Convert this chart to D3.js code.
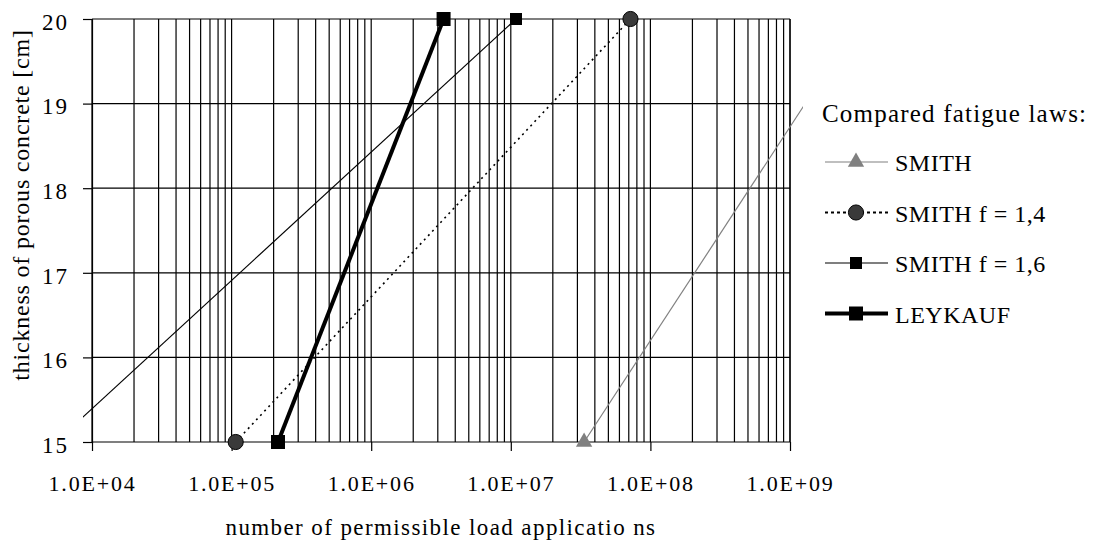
<!DOCTYPE html>
<html>
<head>
<meta charset="utf-8">
<script src="https://cdn.jsdelivr.net/npm/d3@7"></script>
<style>
  body { margin: 0; background: #fff; }
  svg text { font-family: "Liberation Serif", "Times New Roman", Times, "DejaVu Serif", serif; fill: #000; }
</style>
</head>
<body>
<div id="chart"></div>
<script>
// thickness of porous concrete [cm] and permissible load applications per law
const thickness = [15, 20]
const smith = [3.35e7, 3.2e9]
const smith14 = [1.07e5, 7.2e7]
const smith16 = [5.5e3, 1.09e7]
const leykauf = [2.15e5, 3.3e6]

const yTicks = [15, 16, 17, 18, 19, 20]
const xMajor = [1e4, 1e5, 1e6, 1e7, 1e8, 1e9]
const xLabels = ["1.0E+04", "1.0E+05", "1.0E+06", "1.0E+07", "1.0E+08", "1.0E+09"]
const legendNames = ["SMITH", "SMITH f = 1,4", "SMITH f = 1,6", "LEYKAUF"]

const W = 1095, H = 542
const plot = {left: 92, right: 790, top: 19, bottom: 442}

const svg = d3.select("#chart").append("svg")
    .attr("width", W)
    .attr("height", H)

const x = d3.scaleLog().domain([1e4, 1e9]).range([plot.left, plot.right])
const y = d3.scaleLinear().domain([15, 20]).range([plot.bottom, plot.top])

// all minor + major vertical grid values
const xGrid = []
for (let d = 4; d < 9; d++) {
    for (let k = 1; k < 10; k++) xGrid.push(k * Math.pow(10, d))
}
xGrid.push(1e9)

const grid = svg.append("g").attr("stroke", "#000").attr("stroke-width", 1.2)

grid.selectAll(".vg").data(xGrid).join("line")
    .attr("class", "vg")
    .attr("x1", d => x(d)).attr("x2", d => x(d))
    .attr("y1", plot.top).attr("y2", plot.bottom)

grid.selectAll(".hg").data(yTicks).join("line")
    .attr("class", "hg")
    .attr("x1", plot.left).attr("x2", plot.right)
    .attr("y1", d => y(d)).attr("y2", d => y(d))

// axes
const xAxis = d3.axisBottom(x)
    .tickValues(xMajor)
    .tickSize(9)
    .tickPadding(24)
    .tickFormat((d, i) => xLabels[i])

const yAxis = d3.axisLeft(y)
    .tickValues(yTicks)
    .tickSize(9)
    .tickPadding(14)
    .tickFormat(d3.format("d"))

const gx = svg.append("g")
    .attr("transform", `translate(0,${plot.bottom})`)
    .call(xAxis)
gx.select(".domain").remove()
gx.selectAll("line").attr("stroke", "#000").attr("stroke-width", 1.2)
gx.selectAll("text")
    .style("font-size", "22px")
    .style("letter-spacing", "1.8px")

const gy = svg.append("g")
    .attr("transform", `translate(${plot.left},0)`)
    .call(yAxis)
gy.select(".domain").attr("stroke", "#000").attr("stroke-width", 1.2)
gy.selectAll("line").attr("stroke", "#000").attr("stroke-width", 1.2)
gy.selectAll("text")
    .attr("dy", "0.45em")
    .style("font-size", "23px")
    .style("letter-spacing", "2px")

svg.append("line")
    .attr("x1", plot.right).attr("x2", plot.right)
    .attr("y1", plot.top).attr("y2", plot.bottom)
    .attr("stroke", "#000").attr("stroke-width", 1.2)

// axis titles
svg.append("text")
    .attr("x", 441)
    .attr("y", 535)
    .attr("text-anchor", "middle")
    .style("font-size", "23px")
    .style("letter-spacing", "1.4px")
    .text("number of permissible load applicatio ns")

svg.append("text")
    .attr("transform", `translate(29,205) rotate(-90)`)
    .attr("text-anchor", "middle")
    .style("font-size", "24px")
    .style("letter-spacing", "0.8px")
    .text("thickness of porous concrete [cm]")

// series
svg.append("clipPath").attr("id", "clip")
    .append("rect")
    .attr("x", 83).attr("y", 0)
    .attr("width", 803 - 83).attr("height", H)

const series = [
    {name: legendNames[0], values: smith, stroke: "#808080", width: 1.2, dash: null,
        symbol: d3.symbolTriangle, size: 115, fill: "#808080", outline: "none"},
    {name: legendNames[1], values: smith14, stroke: "#000", width: 1.6, dash: "2,4",
        symbol: d3.symbolCircle, size: 180, fill: "#3a3a3a", outline: "#000"},
    {name: legendNames[2], values: smith16, stroke: "#000", width: 1.2, dash: null,
        symbol: d3.symbolSquare, size: 144, fill: "#000", outline: "none"},
    {name: legendNames[3], values: leykauf, stroke: "#000", width: 4, dash: null,
        symbol: d3.symbolSquare, size: 196, fill: "#000", outline: "none"}
]

const line = d3.line()
    .x(d => x(d[0]))
    .y(d => y(d[1]))

const marks = svg.append("g").attr("clip-path", "url(#clip)")

series.forEach(s => {
    const pts = s.values.map((v, i) => [v, thickness[i]])
    marks.append("path")
        .datum(pts)
        .attr("d", line)
        .attr("fill", "none")
        .attr("stroke", s.stroke)
        .attr("stroke-width", s.width)
        .attr("stroke-dasharray", s.dash)
    marks.selectAll(null).data(pts).join("path")
        .attr("transform", d => `translate(${x(d[0])},${y(d[1])})`)
        .attr("d", d3.symbol().type(s.symbol).size(s.size))
        .attr("fill", s.fill)
        .attr("stroke", s.outline)
})

// legend
const legend = svg.append("g")

legend.append("text")
    .attr("x", 822).attr("y", 122)
    .style("font-size", "25px")
    .style("letter-spacing", "1.2px")
    .text("Compared fatigue laws:")

const rows = legend.selectAll(".row").data(series).join("g")
    .attr("class", "row")
    .attr("transform", (d, i) => `translate(0,${162 + i * 50.5})`)

rows.append("line")
    .attr("x1", 825).attr("x2", 888)
    .attr("stroke", d => d.stroke)
    .attr("stroke-width", d => d.width === 1.6 ? 2.2 : d.width)
    .attr("stroke-dasharray", d => d.dash ? "3,3" : null)

rows.append("path")
    .attr("transform", "translate(856,0)")
    .attr("d", d => d3.symbol().type(d.symbol).size(d.size)())
    .attr("fill", d => d.fill)
    .attr("stroke", d => d.outline)

rows.append("text")
    .attr("x", 895).attr("y", 9)
    .style("font-size", "24px")
    .style("letter-spacing", "0.5px")
    .text(d => d.name)
</script>
</body>
</html>
